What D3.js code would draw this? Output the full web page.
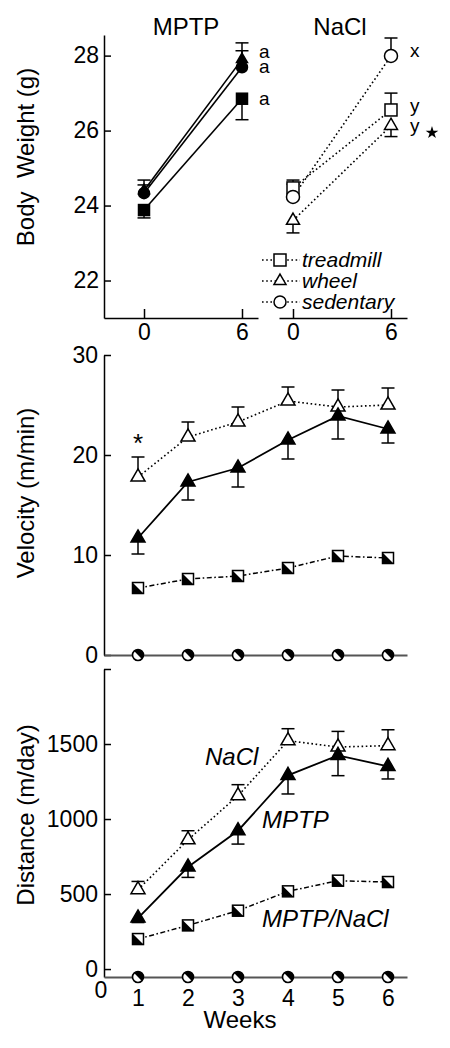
<!DOCTYPE html>
<html><head><meta charset="utf-8">
<script src="https://cdn.jsdelivr.net/npm/d3@7"></script>
<style>
body{margin:0;background:#fff}
svg{display:block;font-family:"Liberation Sans",Arial,Helvetica,sans-serif}
</style>
</head><body>
<svg id="c" width="450" height="1048"></svg>
<script>
// ---------------- DATA ----------------
// Body weight (g), weeks 0 and 6
const bwWeeks = [0, 6];
const bwTicks = [22, 24, 26, 28];
const bwPanels = ["MPTP", "NaCl"];
const bwGroups = ["treadmill", "wheel", "sedentary"];
const bwMptpTreadmill = [23.88, 26.85], bwMptpTreadmillErr = [-0.21, -0.56];
const bwMptpWheel     = [24.40, 27.90], bwMptpWheelErr     = [0.28, 0.44];
const bwMptpSedentary = [24.33, 27.69], bwMptpSedentaryErr = [0.22, 0.44];
const bwNaclTreadmill = [24.47, 26.55], bwNaclTreadmillErr = [0.21, 0.45];
const bwNaclWheel     = [23.60, 26.13], bwNaclWheelErr     = [-0.33, -0.29];
const bwNaclSedentary = [24.23, 27.99], bwNaclSedentaryErr = [0.34, 0.48];
const bwMptpLetters = ["a", "a", "a"];          // treadmill, wheel, sedentary
const bwNaclLetters = ["y", "y", "x"];          // treadmill, wheel, sedentary

// Running, weeks 1..6
const weeks = [1, 2, 3, 4, 5, 6];
const velTicks = [0, 10, 20, 30];
const velNaCl = [17.8, 21.8, 23.3, 25.4, 24.8, 25.0];
const velNaClErr = [2.0, 1.5, 1.5, 1.4, 1.7, 1.7];
const velMPTP = [11.7, 17.3, 18.7, 21.5, 23.9, 22.6];
const velMPTPErr = [-1.6, -1.8, -1.9, -1.9, -2.3, -1.4];
const velMPTPNaCl = [6.7, 7.6, 7.9, 8.7, 9.9, 9.7];
const velSedentary = [0, 0, 0, 0, 0, 0];

const distTicks = [0, 500, 1000, 1500, 2000];
const distNaCl = [529, 862, 1155, 1522, 1480, 1489];
const distNaClErr = [55, 60, 74, 80, 104, 106];
const distMPTP = [340, 680, 922, 1291, 1424, 1351];
const distMPTPErr = [-30, -69, -89, -124, -135, -84];
const distMPTPNaCl = [200, 291, 389, 518, 589, 580];
const distSedentary = [0, 0, 0, 0, 0, 0];
const distLabels = ["NaCl", "MPTP", "MPTP/NaCl"];

// ---------------- DRAW ----------------
const svg = d3.select("#c");
const DOT = "1.6,2.6", DASHDOT = "5,2.5,1.6,2.5";

function drawMarker(g, type, cx, cy, s) {
  const t = g.append("g").attr("transform", `translate(${cx},${cy})`);
  if (type === "tri" || type === "triOpen") {
    t.append("path").attr("d", d3.symbol(d3.symbolTriangle, s * s * 0.433)())
      .attr("fill", type === "tri" ? "#000" : "#fff").attr("stroke", "#000").attr("stroke-width", 1.5);
  } else if (type === "sq" || type === "sqOpen") {
    t.append("rect").attr("x", -s / 2).attr("y", -s / 2).attr("width", s).attr("height", s)
      .attr("fill", type === "sq" ? "#000" : "#fff").attr("stroke", "#000").attr("stroke-width", 1.5);
  } else if (type === "circ" || type === "circOpen") {
    t.append("circle").attr("r", s / 2)
      .attr("fill", type === "circ" ? "#000" : "#fff").attr("stroke", "#000").attr("stroke-width", 1.5);
  } else if (type === "halfSq") {
    t.append("rect").attr("x", -s / 2).attr("y", -s / 2).attr("width", s).attr("height", s)
      .attr("fill", "#fff").attr("stroke", "#000").attr("stroke-width", 1.5);
    t.append("path").attr("d", `M${-s/2},${-s/2}L${-s/2},${s/2}L${s/2},${s/2}Z`).attr("fill", "#000");
  } else if (type === "halfCirc") {
    const r = s / 2, a = r / Math.SQRT2;
    t.append("circle").attr("r", r).attr("fill", "#fff").attr("stroke", "#000").attr("stroke-width", 1.6);
    t.append("path").attr("d", `M${-a},${-a}A${r},${r} 0 0 1 ${a},${-a}A${r},${r} 0 0 1 ${a},${a}Z`).attr("fill", "#000");
  }
}

function errBar(g, cx, y, v, e, cap) {
  if (!e) return;
  g.append("line").attr("x1", cx).attr("x2", cx).attr("y1", y(v)).attr("y2", y(v + e))
    .attr("stroke", "#000").attr("stroke-width", 1.5);
  g.append("line").attr("x1", cx - cap).attr("x2", cx + cap).attr("y1", y(v + e)).attr("y2", y(v + e))
    .attr("stroke", "#000").attr("stroke-width", 1.5);
}

function styleAxis(ax, size) {
  ax.selectAll("text").attr("font-size", size).attr("fill", "#000")
    .attr("font-family", '"Liberation Sans",Arial,sans-serif');
  ax.selectAll("line").attr("stroke", "#000").attr("stroke-width", 1.5);
  ax.select(".domain").attr("stroke", "#000").attr("stroke-width", 1.5);
}

// ===== Panel 1 : Body weight =====
const yBW = d3.scaleLinear().domain([21, 28.55]).range([318, 35]);
const xM = d3.scaleLinear().domain([-2.45, 6.98]).range([104, 258]);
const xN = d3.scaleLinear().domain([-0.857, 6.98]).range([279, 407]);
const p1 = svg.append("g");

const axY1 = p1.append("g").attr("transform", `translate(104,0)`)
  .call(d3.axisLeft(yBW).tickValues(bwTicks).tickSizeInner(-7).tickSizeOuter(0).tickPadding(5));
styleAxis(axY1, 23);
[xM, xN].forEach(xs => {
  const ax = p1.append("g").attr("transform", `translate(0,318)`)
    .call(d3.axisBottom(xs).tickValues(bwWeeks).tickSizeInner(-9).tickSizeOuter(0).tickPadding(6));
  styleAxis(ax, 23);
});
p1.append("text").attr("x", 186).attr("y", 35).attr("text-anchor", "middle").attr("font-size", 24).text(bwPanels[0]);
p1.append("text").attr("x", 340).attr("y", 35).attr("text-anchor", "middle").attr("font-size", 24).text(bwPanels[1]);
p1.append("text").attr("transform", `translate(34,157) rotate(-90)`).attr("text-anchor", "middle")
  .attr("font-size", 24).attr("xml:space", "preserve").text("Body  Weight (g)");

const bwMptp = [
  {v: bwMptpTreadmill, e: bwMptpTreadmillErr, m: "sq", s: 11, lab: bwMptpLetters[0], dy: 1},
  {v: bwMptpWheel, e: bwMptpWheelErr, m: "tri", s: 11, lab: bwMptpLetters[1], dy: -6},
  {v: bwMptpSedentary, e: bwMptpSedentaryErr, m: "circ", s: 11, lab: bwMptpLetters[2], dy: 1}
];
const bwNacl = [
  {v: bwNaclTreadmill, e: bwNaclTreadmillErr, m: "sqOpen", s: 12, lab: bwNaclLetters[0], dy: -3},
  {v: bwNaclWheel, e: bwNaclWheelErr, m: "triOpen", s: 13, lab: bwNaclLetters[1], dy: 1, star: true},
  {v: bwNaclSedentary, e: bwNaclSedentaryErr, m: "circOpen", s: 13, lab: bwNaclLetters[2], dy: -4}
];
function drawBW(series, xs, solid) {
  series.forEach(sr => {
    p1.append("line").attr("x1", xs(bwWeeks[0])).attr("y1", yBW(sr.v[0]))
      .attr("x2", xs(bwWeeks[1])).attr("y2", yBW(sr.v[1]))
      .attr("stroke", "#000").attr("stroke-width", 1.6)
      .attr("stroke-dasharray", solid ? null : DOT);
  });
  series.forEach(sr => bwWeeks.forEach((w, i) => errBar(p1, xs(w), yBW, sr.v[i], sr.e[i], 6.5)));
  series.forEach(sr => bwWeeks.forEach((w, i) => drawMarker(p1, sr.m, xs(w), yBW(sr.v[i]), sr.s)));
  series.forEach(sr => {
    p1.append("text").attr("x", xs(6) + (solid ? 17 : 19)).attr("y", yBW(sr.v[1]) + sr.dy + 5)
      .attr("font-size", 19).text(sr.lab);
    if (sr.star) {
      p1.append("path").attr("d", d3.symbol(d3.symbolStar, 50)())
        .attr("transform", `translate(${xs(6) + 41},${yBW(sr.v[1]) + sr.dy + 6})`).attr("fill", "#000");
    }
  });
}
drawBW(bwMptp, xM, true);
drawBW(bwNacl, xN, false);

// legend
const legTypes = ["sqOpen", "triOpen", "circOpen"];
bwGroups.forEach((gname, i) => {
  const cy = 260 + i * 21;
  p1.append("line").attr("x1", 262).attr("x2", 300).attr("y1", cy).attr("y2", cy)
    .attr("stroke", "#000").attr("stroke-width", 1.5).attr("stroke-dasharray", DOT);
  drawMarker(p1, legTypes[i], 280, cy, 12);
  p1.append("text").attr("x", 302).attr("y", cy + 7).attr("font-size", 21).attr("font-style", "italic").text(gname);
});

// ===== Panels 2 & 3 =====
const xW = d3.scaleLinear().domain([0.32, 6.38]).range([104, 407]);

function runPanel(opts) {
  const g = svg.append("g");
  const y = opts.y;
  const base = y.range()[0];
  const axY = g.append("g").attr("transform", "translate(104,0)")
    .call(d3.axisLeft(y).tickValues(opts.ticks).tickSizeInner(-7).tickSizeOuter(0).tickPadding(6)
      .tickFormat(d => opts.tickFmt(d)));
  styleAxis(axY, 23);
  const axX = g.append("g").attr("transform", `translate(0,${base})`)
    .call(d3.axisBottom(xW).tickValues(opts.xlabels ? weeks : []).tickSize(0).tickPadding(13)
      .tickFormat(d3.format("d")));
  styleAxis(axX, 23);
  axX.select(".domain").attr("stroke", "#555").attr("stroke-width", 1.8);
  g.append("text").attr("transform", `translate(34,${opts.titleY}) rotate(-90)`).attr("text-anchor", "middle")
    .attr("font-size", 24).text(opts.title);

  const lineGen = d3.line().x((d, i) => xW(weeks[i])).y(d => y(d));
  g.append("path").attr("d", lineGen(opts.mn)).attr("fill", "none").attr("stroke", "#000")
    .attr("stroke-width", 1.5).attr("stroke-dasharray", DASHDOT);
  g.append("path").attr("d", lineGen(opts.nacl)).attr("fill", "none").attr("stroke", "#000")
    .attr("stroke-width", 1.6).attr("stroke-dasharray", DOT);
  g.append("path").attr("d", lineGen(opts.mptp)).attr("fill", "none").attr("stroke", "#000")
    .attr("stroke-width", 1.8);
  weeks.forEach((w, i) => {
    errBar(g, xW(w), y, opts.nacl[i], opts.naclErr[i], 6.5);
    errBar(g, xW(w), y, opts.mptp[i], opts.mptpErr[i], 6.5);
  });
  weeks.forEach((w, i) => {
    drawMarker(g, "halfSq", xW(w), y(opts.mn[i]), 11);
    drawMarker(g, "triOpen", xW(w), y(opts.nacl[i]), 14);
    drawMarker(g, "tri", xW(w), y(opts.mptp[i]), 14);
    drawMarker(g, "halfCirc", xW(w), Math.max(y(opts.sed[i]), base), 11);
  });
  return g;
}

const yVel = d3.scaleLinear().domain([0, 30]).range([655, 355]);
const g2 = runPanel({y: yVel, ticks: velTicks, tickFmt: d => d, title: "Velocity (m/min)", titleY: 493,
  nacl: velNaCl, naclErr: velNaClErr, mptp: velMPTP, mptpErr: velMPTPErr, mn: velMPTPNaCl, sed: velSedentary,
  xlabels: false});
g2.append("text").attr("x", xW(weeks[0])).attr("y", yVel(velNaCl[0] + velNaClErr[0]) - 5)
  .attr("text-anchor", "middle").attr("font-size", 26).text("*");

const yDist = d3.scaleLinear().domain([-53, 2000]).range([977, 669]);
const g3 = runPanel({y: yDist, ticks: distTicks, tickFmt: d => d === 2000 ? "" : d, title: "Distance (m/day)", titleY: 815,
  nacl: distNaCl, naclErr: distNaClErr, mptp: distMPTP, mptpErr: distMPTPErr, mn: distMPTPNaCl, sed: distSedentary,
  xlabels: true});
g3.append("text").attr("x", 101).attr("y", 998).attr("text-anchor", "middle").attr("font-size", 23).text("0");
g3.append("text").attr("x", 240).attr("y", 1028).attr("text-anchor", "middle").attr("font-size", 24).text("Weeks");
g3.append("text").attr("x", 205).attr("y", 765).attr("font-size", 24).attr("font-style", "italic").text(distLabels[0]);
g3.append("text").attr("x", 262).attr("y", 828).attr("font-size", 24).attr("font-style", "italic").text(distLabels[1]);
g3.append("text").attr("x", 262).attr("y", 927).attr("font-size", 24).attr("font-style", "italic").text(distLabels[2]);
</script>
</body></html>
